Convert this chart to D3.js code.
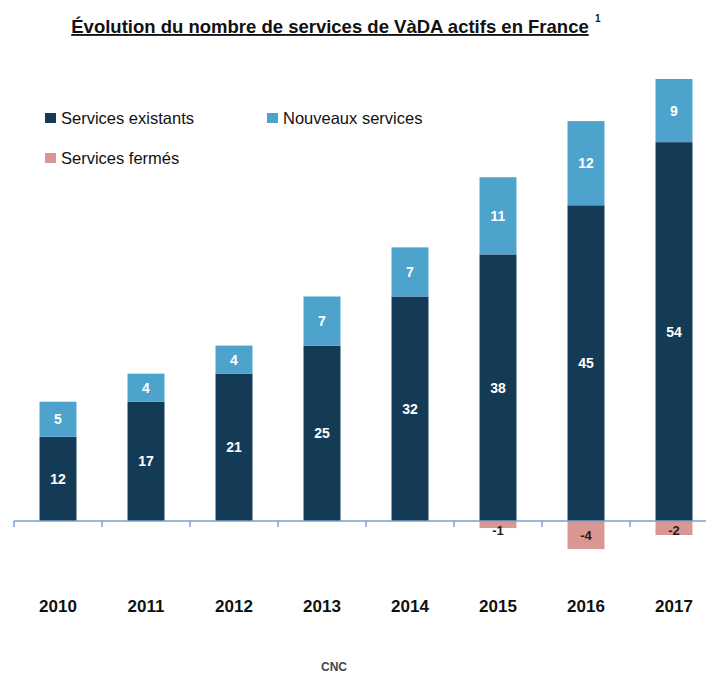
<!DOCTYPE html>
<html>
<head>
<meta charset="utf-8">
<script src="https://cdn.jsdelivr.net/npm/d3@7"></script>
<style>
    body { margin: 0; background: #fff; }
    svg { font-family: "Liberation Sans", Arial, sans-serif; }
</style>
</head>
<body>
<svg id="drawing_region"></svg>
<script>
const years = ['2010', '2011', '2012', '2013', '2014', '2015', '2016', '2017'];
const existants = [12, 17, 21, 25, 32, 38, 45, 54];
const nouveaux = [5, 4, 4, 7, 7, 11, 12, 9];
const fermes = [0, 0, 0, 0, 0, -1, -4, -2];

const colors = { existants: '#133b55', nouveaux: '#4ea3cc', fermes: '#d99794' };

const width = 706, height = 673;

const svg = d3.select('#drawing_region')
    .attr('width', width)
    .attr('height', height);

const data = years.map((y, i) => ({
    year: y,
    existants: existants[i],
    nouveaux: nouveaux[i],
    fermes: fermes[i]
}));

const xscale = d3.scaleBand()
    .domain(years)
    .range([14, 718])
    .paddingInner(0.58)
    .paddingOuter(0.29);

const yscale = d3.scaleLinear()
    .domain([0, 63])
    .range([521, 79]);

// title
svg.append('text')
    .attr('x', 330)
    .attr('y', 33)
    .attr('text-anchor', 'middle')
    .style('font-size', '18.5px')
    .style('font-weight', 'bold')
    .style('text-decoration', 'underline')
    .attr('fill', '#111')
    .text('Évolution du nombre de services de VàDA actifs en France');

svg.append('text')
    .attr('x', 595)
    .attr('y', 22)
    .style('font-size', '10px')
    .style('font-weight', 'bold')
    .attr('fill', '#222')
    .text('1');

// legend
const legend = [
    { label: 'Services existants', color: colors.existants, x: 45, y: 118 },
    { label: 'Nouveaux services', color: colors.nouveaux, x: 267, y: 118 },
    { label: 'Services fermés', color: colors.fermes, x: 45, y: 158 }
];

const lg = svg.selectAll('g.legend')
    .data(legend)
    .join('g')
    .attr('class', 'legend')
    .attr('transform', d => `translate(${d.x}, ${d.y})`);

lg.append('rect')
    .attr('x', 0)
    .attr('y', -5)
    .attr('width', 11)
    .attr('height', 10)
    .attr('fill', d => d.color);

lg.append('text')
    .attr('x', 16)
    .attr('y', 6)
    .style('font-size', '16.5px')
    .attr('fill', '#111')
    .text(d => d.label);

// bars
const bw = xscale.bandwidth();
const chart = svg.append('g');

chart.selectAll('rect.existants')
    .data(data)
    .join('rect')
    .attr('class', 'existants')
    .attr('x', d => xscale(d.year))
    .attr('y', d => yscale(d.existants))
    .attr('width', bw)
    .attr('height', d => yscale(0) - yscale(d.existants))
    .attr('fill', colors.existants);

chart.selectAll('rect.nouveaux')
    .data(data)
    .join('rect')
    .attr('class', 'nouveaux')
    .attr('x', d => xscale(d.year))
    .attr('y', d => yscale(d.existants + d.nouveaux))
    .attr('width', bw)
    .attr('height', d => yscale(d.existants) - yscale(d.existants + d.nouveaux))
    .attr('fill', colors.nouveaux);

const closed = data.filter(d => d.fermes < 0);

chart.selectAll('rect.fermes')
    .data(closed)
    .join('rect')
    .attr('class', 'fermes')
    .attr('x', d => xscale(d.year))
    .attr('y', yscale(0))
    .attr('width', bw)
    .attr('height', d => yscale(d.fermes) - yscale(0))
    .attr('fill', colors.fermes);

// value labels
chart.selectAll('text.lab-ex')
    .data(data)
    .join('text')
    .attr('class', 'lab-ex')
    .attr('x', d => xscale(d.year) + bw / 2)
    .attr('y', d => (yscale(0) + yscale(d.existants)) / 2 + 5)
    .attr('text-anchor', 'middle')
    .style('font-size', '14px')
    .style('font-weight', 'bold')
    .attr('fill', '#fff')
    .text(d => d.existants);

chart.selectAll('text.lab-nv')
    .data(data)
    .join('text')
    .attr('class', 'lab-nv')
    .attr('x', d => xscale(d.year) + bw / 2)
    .attr('y', d => (yscale(d.existants) + yscale(d.existants + d.nouveaux)) / 2 + 5)
    .attr('text-anchor', 'middle')
    .style('font-size', '14px')
    .style('font-weight', 'bold')
    .attr('fill', '#fff')
    .text(d => d.nouveaux);

chart.selectAll('text.lab-fe')
    .data(closed)
    .join('text')
    .attr('class', 'lab-fe')
    .attr('x', d => xscale(d.year) + bw / 2)
    .attr('y', d => Math.max((yscale(0) + yscale(d.fermes)) / 2, yscale(0) + 9) + 5)
    .attr('text-anchor', 'middle')
    .style('font-size', '13px')
    .style('font-weight', 'bold')
    .attr('fill', '#2a1a1a')
    .text(d => d.fermes);

// axis
const axis = svg.append('g');
const y0 = yscale(0);
const step = xscale.step();
const offset = (step - bw) / 2;

axis.append('line')
    .attr('x1', 14)
    .attr('x2', width)
    .attr('y1', y0)
    .attr('y2', y0)
    .attr('stroke', '#7a9fd0')
    .attr('stroke-width', 1.5);

axis.selectAll('line.tick')
    .data(years)
    .join('line')
    .attr('class', 'tick')
    .attr('x1', d => xscale(d) - offset)
    .attr('x2', d => xscale(d) - offset)
    .attr('y1', y0)
    .attr('y2', y0 + 6)
    .attr('stroke', '#7a9fd0')
    .attr('stroke-width', 1.5);

axis.selectAll('text.year')
    .data(years)
    .join('text')
    .attr('class', 'year')
    .attr('x', d => xscale(d) + bw / 2)
    .attr('y', 612)
    .attr('text-anchor', 'middle')
    .style('font-size', '17px')
    .style('font-weight', 'bold')
    .attr('fill', '#111')
    .text(d => d);

// source
svg.append('text')
    .attr('x', 334)
    .attr('y', 671)
    .attr('text-anchor', 'middle')
    .style('font-size', '12px')
    .style('font-weight', 'bold')
    .attr('fill', '#445')
    .text('CNC');
</script>
</body>
</html>
